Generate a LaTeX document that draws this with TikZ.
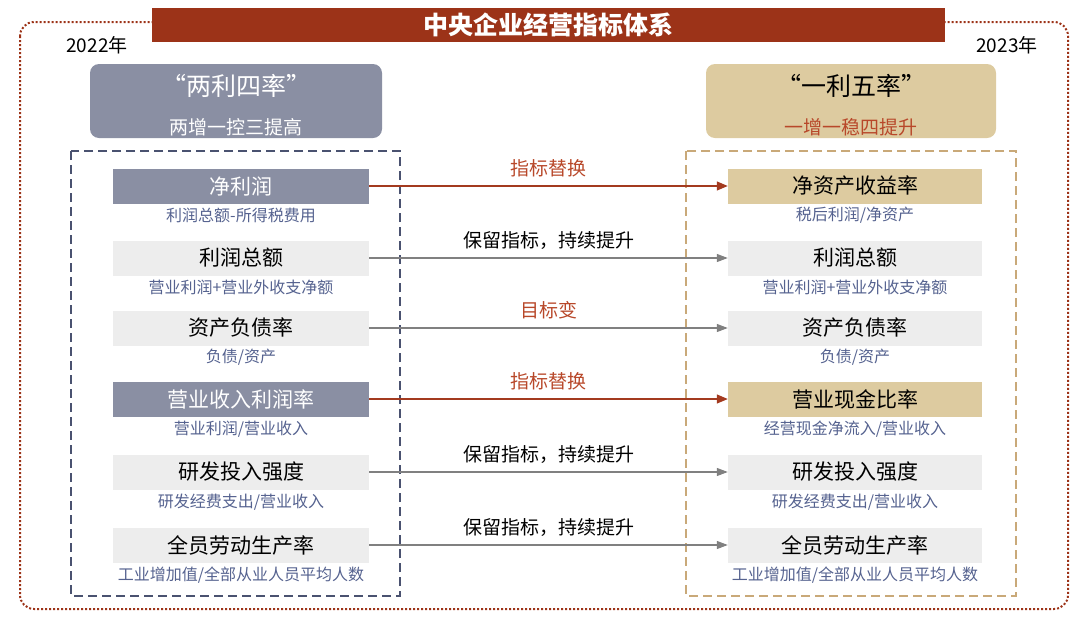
\documentclass[tikz,border=0pt]{standalone}
\usepackage{fontspec}
\setmainfont{Noto Sans CJK SC}
\usetikzlibrary{arrows.meta}
\definecolor{dred}{HTML}{9C3318}
\definecolor{arred}{HTML}{A33A1F}
\definecolor{slate}{HTML}{8A8FA3}
\definecolor{slated}{HTML}{4A5270}
\definecolor{tan}{HTML}{DDCBA0}
\definecolor{tand}{HTML}{C9A979}
\definecolor{lgray}{HTML}{EDEDED}
\definecolor{subc}{HTML}{55628F}
\definecolor{redt}{HTML}{B8482A}
\tikzset{
 itemL/.style={minimum width=256pt,minimum height=35pt,inner sep=0pt,font=\fontsize{21}{21}\selectfont},
 itemR/.style={minimum width=254pt,minimum height=35pt,inner sep=0pt,font=\fontsize{21}{21}\selectfont},
 hiL/.style={fill=slate,text=white},
 hiR/.style={fill=tan,text=black},
 plain/.style={fill=lgray,text=black},
 sub/.style={font=\fontsize{16}{16}\selectfont,text=subc,inner sep=0pt},
 rarr/.style={draw=arred,line width=1.3pt,-{Triangle[length=11pt,width=9pt]}},
 garr/.style={draw=gray,line width=1.1pt,-{Triangle[length=11pt,width=8pt]}},
 lab/.style={font=\fontsize{19}{19}\selectfont,inner sep=0pt}
}
\begin{document}
\begin{tikzpicture}[x=1pt,y=-1pt]
\useasboundingbox (0,0) rectangle (1080,619);
\draw[dred,line width=2pt,dotted,rounded corners=14pt] (20,22) rectangle (1068,609);
\node[fill=dred,minimum width=793pt,minimum height=34pt,inner sep=0pt,text=white,font=\fontsize{25}{25}\selectfont\bfseries] (title) at (548.5,25) {中央企业经营指标体系};
\node[font=\fontsize{19}{19}\selectfont] (y22) at (97,45) {2022年};
\node[font=\fontsize{19}{19}\selectfont] (y23) at (1007,45) {2023年};
\fill[slate,rounded corners=9pt] (90,64) rectangle (382,138);
\node[text=white,font=\fontsize{25}{25}\selectfont] (hl1) at (236,86) {“两利四率”};
\node[text=white,font=\fontsize{19}{19}\selectfont] (hl2) at (236,127) {两增一控三提高};
\fill[tan,rounded corners=9pt] (706,64) rectangle (996,138);
\node[font=\fontsize{25}{25}\selectfont] (hr1) at (851,86) {“一利五率”};
\node[text=redt,font=\fontsize{19}{19}\selectfont] (hr2) at (851,127) {一增一稳四提升};
\draw[slated,line width=2.2pt,dash pattern=on 9pt off 5pt] (71,151) rectangle (400,596);
\draw[tand,line width=2.2pt,dash pattern=on 9pt off 5pt] (686,151) rectangle (1016,596);
% rows
\node[itemL,hiL] (l1) at (241,186) {净利润};
\node[sub] (ls1) at (241,215) {利润总额-所得税费用};
\node[itemL,plain] (l2) at (241,258) {利润总额};
\node[sub] (ls2) at (241,287) {营业利润+营业外收支净额};
\node[itemL,plain] (l3) at (241,328) {资产负债率};
\node[sub] (ls3) at (241,357) {负债/资产};
\node[itemL,hiL] (l4) at (241,399) {营业收入利润率};
\node[sub] (ls4) at (241,429) {营业利润/营业收入};
\node[itemL,plain] (l5) at (241,472) {研发投入强度};
\node[sub] (ls5) at (241,502) {研发经费支出/营业收入};
\node[itemL,plain] (l6) at (241,545) {全员劳动生产率};
\node[sub] (ls6) at (241,575) {工业增加值/全部从业人员平均人数};
\node[itemR,hiR] (r1) at (855,186) {净资产收益率};
\node[sub] (rs1) at (855,215) {税后利润/净资产};
\node[itemR,plain] (r2) at (855,258) {利润总额};
\node[sub] (rs2) at (855,287) {营业利润+营业外收支净额};
\node[itemR,plain] (r3) at (855,328) {资产负债率};
\node[sub] (rs3) at (855,357) {负债/资产};
\node[itemR,hiR] (r4) at (855,399) {营业现金比率};
\node[sub] (rs4) at (855,429) {经营现金净流入/营业收入};
\node[itemR,plain] (r5) at (855,472) {研发投入强度};
\node[sub] (rs5) at (855,502) {研发经费支出/营业收入};
\node[itemR,plain] (r6) at (855,545) {全员劳动生产率};
\node[sub] (rs6) at (855,575) {工业增加值/全部从业人员平均人数};
\draw[rarr] (l1) -- node[lab,text=redt,above=8pt]{指标替换} (r1);
\draw[garr] (l2) -- node[lab,above=8pt]{保留指标，持续提升} (r2);
\draw[garr] (l3) -- node[lab,text=redt,above=8pt]{目标变} (r3);
\draw[rarr] (l4) -- node[lab,text=redt,above=8pt]{指标替换} (r4);
\draw[garr] (l5) -- node[lab,above=8pt]{保留指标，持续提升} (r5);
\draw[garr] (l6) -- node[lab,above=8pt]{保留指标，持续提升} (r6);
\end{tikzpicture}
\end{document}
